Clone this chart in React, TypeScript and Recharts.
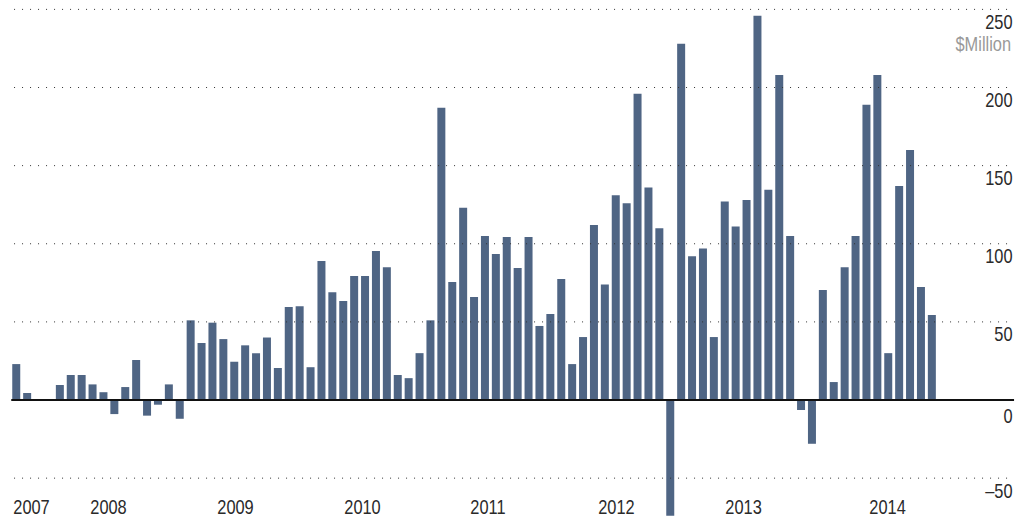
import React from 'react';
import { BarChart, Bar, XAxis, YAxis, ReferenceLine } from 'recharts';

// Monthly values, $Million, Jun 2007 – Jun 2014
const values: number[] = [
  23, 4.5, 0.5, 0.5, 9.6, 16, 16, 10, 5, -9, 8.3, 25.6,
  -10, -3, 10, -12, 51, 36.5, 49.5, 39, 24.5, 35, 30, 40,
  20.5, 59.5, 60, 21, 89, 69, 63.4, 79.4, 79.4, 95.4, 85, 16,
  14, 30, 51, 187, 75.5, 123, 66, 105, 93.5, 104.4, 84.5, 104.4,
  47.4, 55, 77.5, 23, 40.3, 112, 74, 131, 126, 196, 136, 110,
  -74, 228, 92, 97, 40.3, 127, 111, 128, 246, 134.5, 208, 105,
  -6.4, -28, 70.4, 11.5, 85, 105, 189, 208, 30, 137, 160, 72.3,
  54.4,
];

const monthNames = ['Jan', 'Feb', 'Mar', 'Apr', 'May', 'Jun', 'Jul', 'Aug', 'Sep', 'Oct', 'Nov', 'Dec'];
const startYear = 2007;
const startMonth = 5; // June
const totalSlots = 92; // includes empty months after the last bar

const categories: string[] = Array.from({ length: totalSlots }, (_, i) => {
  const m = startMonth + i;
  return `${monthNames[m % 12]} ${startYear + Math.floor(m / 12)}`;
});

const yearLabels = ['2007', '2008', '2009', '2010', '2011', '2012', '2013', '2014'];
const yTicks = [-50, 0, 50, 100, 150, 200, 250];
const unitLabel = '$Million';

const data = categories.map((month, i) => ({
  month,
  value: i < values.length ? values[i] : null,
}));

// Year label placement along a [0, totalSlots - 1] axis
const yearTickPos = [1.838, 8.825, 20.35, 31.874, 43.26, 54.92, 66.45, 79.52];

const CHART_W = 1031;
const CHART_H = 519;
const FONT = "'Liberation Sans', Arial, sans-serif";
const FS = 20;
const SX = 0.82;

const CondText = ({ x, y, anchor, fill, children }: any) => (
  <g transform={`translate(${x},${y}) scale(${SX},1)`}>
    <text x={0} y={0} textAnchor={anchor} fill={fill} fontSize={FS} fontFamily={FONT}>
      {children}
    </text>
  </g>
);

const YTick = (props: any) => {
  const { x, y, payload } = props;
  const v = payload.value as number;
  const label = v < 0 ? `\u2013${Math.abs(v)}` : `${v}`;
  const off = v === 0 ? 22.5 : 19.6;
  return (
    <g>
      <CondText x={x - 1.5} y={y + off} anchor="end" fill="#2a2a2a">
        {label}
      </CondText>
      {v === 250 && (
        <CondText x={x - 3} y={y + off + 22.5} anchor="end" fill="#999999">
          {unitLabel}
        </CondText>
      )}
    </g>
  );
};

const YearTick = (props: any) => {
  const { x, payload } = props;
  const idx = yearTickPos.indexOf(payload.value);
  return (
    <CondText x={x} y={CHART_H - 4.7} anchor="middle" fill="#2a2a2a">
      {yearLabels[idx]}
    </CondText>
  );
};

export default function App() {
  return (
    <div style={{ position: 'absolute', left: 0, top: 0, width: CHART_W, height: CHART_H, background: '#fff' }}>
      <BarChart
        width={CHART_W}
        height={CHART_H}
        data={data}
        margin={{ top: 0, right: 15.95, bottom: 0, left: 11.25 }}
        barSize={8}
      >
        <XAxis dataKey="month" hide />
        <XAxis
          xAxisId="year"
          type="number"
          domain={[0, totalSlots - 1]}
          ticks={yearTickPos}
          axisLine={false}
          tickLine={false}
          tickSize={0}
          tickMargin={0}
          height={1}
          interval={0}
          tick={<YearTick />}
          allowDataOverflow
        />
        <YAxis
          orientation="right"
          width={1}
          domain={[-75.5, 256]}
          ticks={yTicks}
          allowDataOverflow
          axisLine={false}
          tickLine={false}
          tickSize={0}
          tickMargin={0}
          interval={0}
          tick={<YTick />}
        />
        {yTicks
          .filter((t) => t !== 0)
          .map((t) => (
            <ReferenceLine key={t} y={t} stroke="#333" strokeDasharray="0 7 1 0" />
          ))}
        <Bar dataKey="value" fill="#4f6584" isAnimationActive={false} />
        <ReferenceLine y={0} stroke="#111" strokeWidth={2} />
      </BarChart>
    </div>
  );
}
